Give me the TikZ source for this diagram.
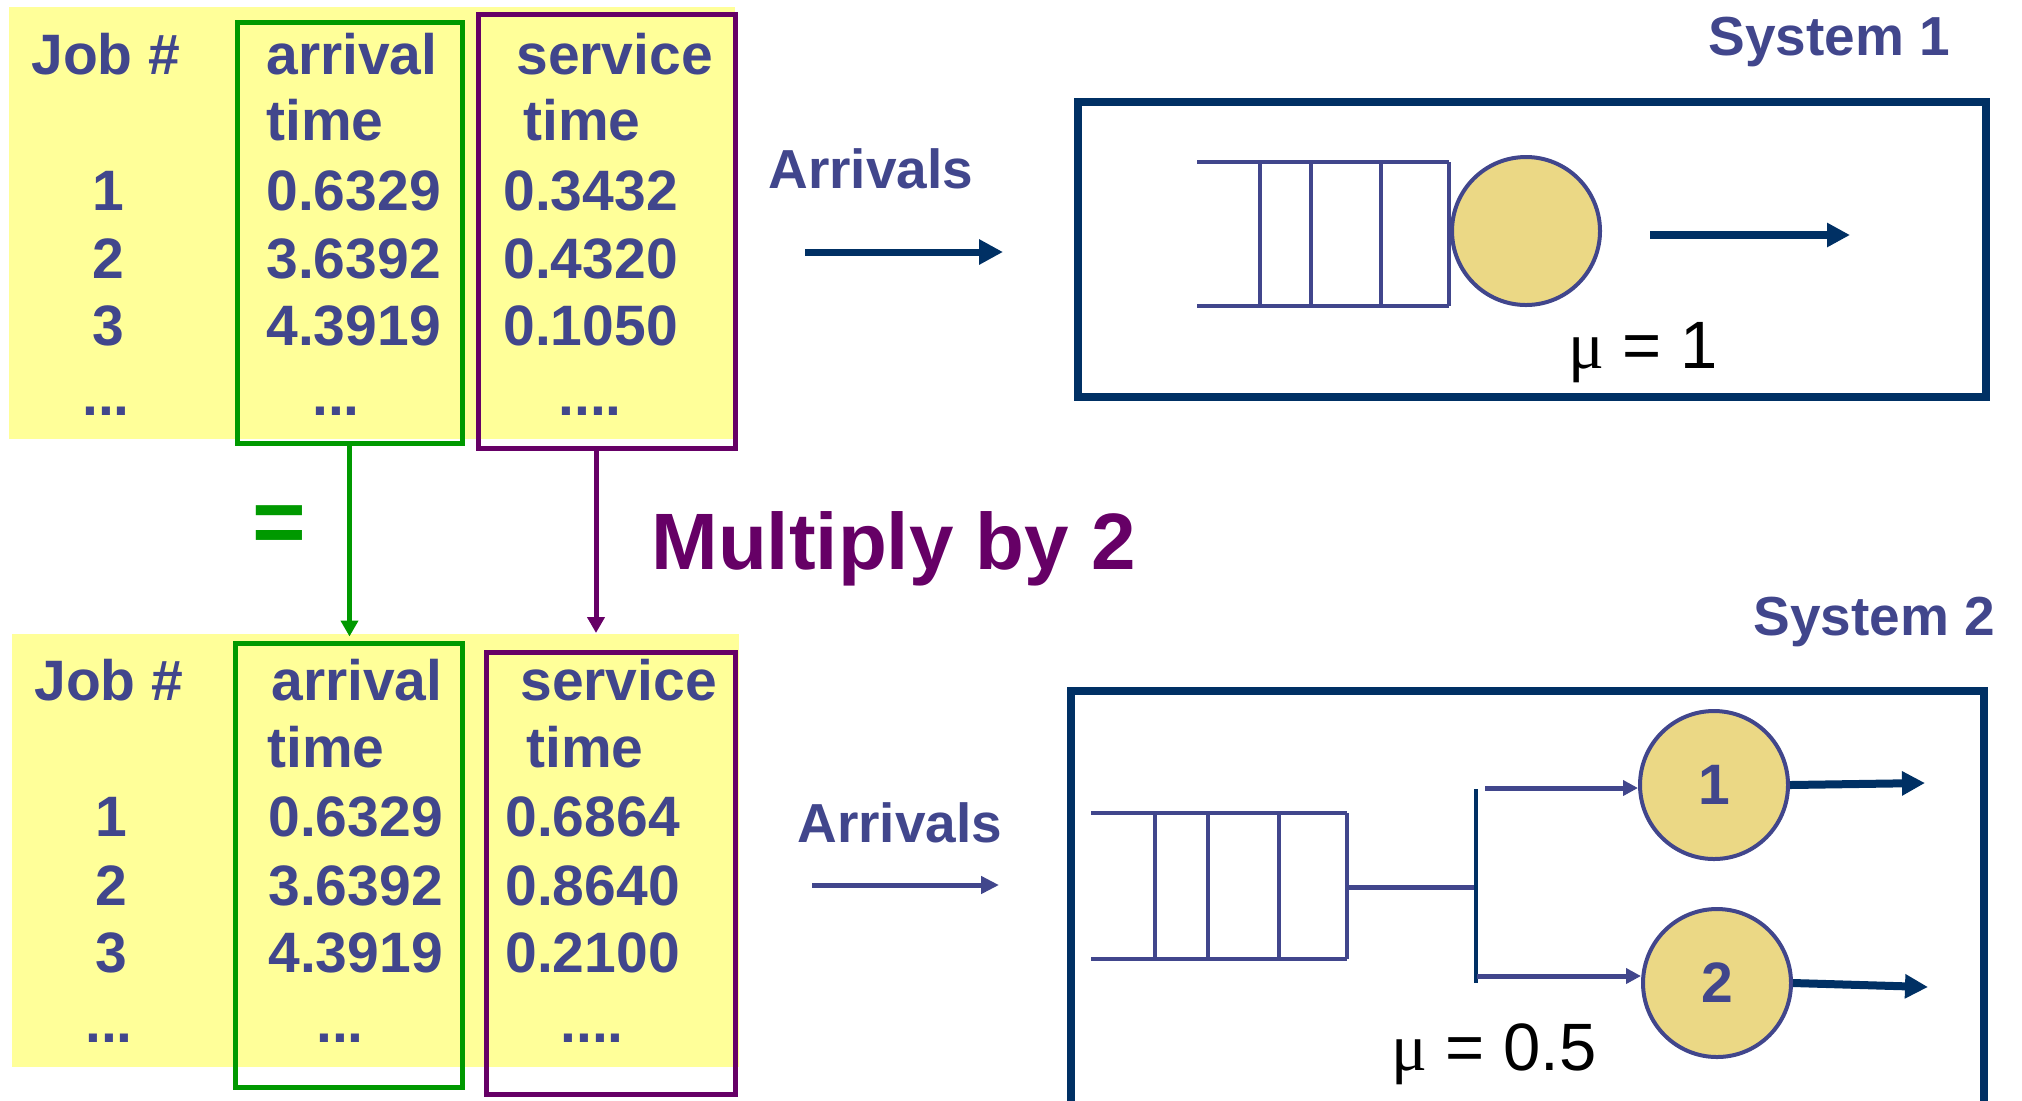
\documentclass[tikz,border=0pt]{standalone}
\usepackage{fontspec}
\setmainfont{Liberation Sans}
\newfontfamily\mufont{Liberation Serif}
\usetikzlibrary{arrows.meta,fit}
\definecolor{txtblue}{RGB}{65,70,140}
\definecolor{navy}{RGB}{0,48,100}
\definecolor{ybg}{RGB}{255,255,153}
\definecolor{grn}{RGB}{0,153,0}
\definecolor{prp}{RGB}{102,0,102}
\definecolor{srv}{RGB}{235,216,133}
\begin{document}
\begin{tikzpicture}[x=0.5pt,y=-0.5pt,
  txt/.style={inner sep=0pt, anchor=base west, text=txtblue, font=\fontsize{28.5}{30}\selectfont\bfseries},
  txtc/.style={txt, anchor=base},
  lbl/.style={inner sep=0pt, anchor=base west, text=txtblue, font=\fontsize{27.5}{30}\selectfont\bfseries},
  mulbl/.style={inner sep=0pt, anchor=base west, text=black, font=\fontsize{33.5}{36}\selectfont},
  ybox/.style={fill=ybg, draw=none, inner sep=0pt},
  gbox/.style={draw=grn, line width=2.5pt, inner sep=0pt},
  pbox/.style={draw=prp, line width=2.5pt, inner sep=0pt},
  sysbox/.style={draw=navy, line width=4pt, inner sep=0pt},
  qline/.style={draw=txtblue, line width=2pt},
  server/.style={circle, draw=txtblue, line width=2pt, fill=srv, minimum size=74pt, inner sep=0pt, text=txtblue, font=\fontsize{28.5}{30}\selectfont\bfseries},
  garrow/.style={draw=grn, line width=2.5pt, -{Triangle[length=8pt,width=8.5pt]}},
  parrow/.style={draw=prp, line width=2.5pt, -{Triangle[length=8pt,width=8.5pt]}},
  bigarrow/.style={draw=navy, line width=3.5pt, -{Triangle[length=12pt,width=12pt]}},
  thinarrow/.style={draw=txtblue, line width=2.5pt, -{Triangle[length=9pt,width=8.5pt]}},
  brarrow/.style={draw=txtblue, line width=2.5pt, -{Triangle[length=7.5pt,width=7.5pt]}},
  outarrow/.style={draw=navy, line width=4pt, -{Triangle[length=11.5pt,width=11.5pt]}}
]
\useasboundingbox (0,0) rectangle (2022,1100);
\clip (0,0) rectangle (2022,1100);

% ---------- top table ----------
\node[ybox, fit={(9,7)(735,439)}] (yTop) {};
\node[gbox, fit={(237,22)(462,443)}] (gTop) {};
\node[pbox, fit={(478,14)(735,448)}] (pTop) {};

\node[txt] (tJob) at (31,74) {Job \#};
\node[txt] (tArrA) at (266,74) {arrival};
\node[txt] (tArrB) at (266,140) {time};
\node[txt] (tSerA) at (516,74) {service};
\node[txt] (tSerB) at (523,140) {time};
\node[txtc] (tJ1) at (108,210) {1};
\node[txtc] (tJ2) at (108,278) {2};
\node[txtc] (tJ3) at (108,345) {3};
\node[txtc] (tJd) at (106,415) {...};
\node[txt] (tA1) at (266,210) {0.6329};
\node[txt] (tA2) at (266,278) {3.6392};
\node[txt] (tA3) at (266,345) {4.3919};
\node[txtc] (tAd) at (336,415) {...};
\node[txt] (tS1) at (503,210) {0.3432};
\node[txt] (tS2) at (503,278) {0.4320};
\node[txt] (tS3) at (503,345) {0.1050};
\node[txtc] (tSd) at (590,415) {....};

% ---------- bottom table ----------
\node[ybox, fit={(12,634)(739,1067)}] (yBot) {};
\node[gbox, fit={(235,643)(462,1087)}] (gBot) {};
\node[pbox, fit={(486,652)(735,1094)}] (pBot) {};

\node[txt] (bJob) at (34,700) {Job \#};
\node[txt] (bArrA) at (271,700) {arrival};
\node[txt] (bArrB) at (267,767) {time};
\node[txt] (bSerA) at (520,700) {service};
\node[txt] (bSerB) at (526,767) {time};
\node[txtc] (bJ1) at (111,836) {1};
\node[txtc] (bJ2) at (111,905) {2};
\node[txtc] (bJ3) at (111,972) {3};
\node[txtc] (bJd) at (109,1042) {...};
\node[txt] (bA1) at (268,836) {0.6329};
\node[txt] (bA2) at (268,905) {3.6392};
\node[txt] (bA3) at (268,972) {4.3919};
\node[txtc] (bAd) at (340,1042) {...};
\node[txt] (bS1) at (505,836) {0.6864};
\node[txt] (bS2) at (505,905) {0.8640};
\node[txt] (bS3) at (505,972) {0.2100};
\node[txtc] (bSd) at (592,1042) {....};

% ---------- connectors between tables ----------
\draw[garrow, shorten >=2pt] (gTop.south) -- (gTop.south |- gBot.north);
\coordinate (pEnd) at (596,633);
\draw[parrow] (pTop.south -| pEnd) -- (pEnd);
\node[inner sep=0pt, text=grn, font=\fontsize{46}{48}\selectfont\bfseries] (eq) at (279,530) {=};
\node[inner sep=0pt, anchor=base west, text=prp, font=\fontsize{40}{44}\selectfont\bfseries] (mult) at (651,569) {Multiply by 2};

% ---------- system 1 ----------
\node[lbl] (sys1) at (1708,55) {System 1};
\node[lbl] (arr1) at (768,188) {Arrivals};
\coordinate (a1s) at (805,252);
\coordinate (a1e) at (1003,252);
\draw[bigarrow] (a1s) -- (a1e);
\node[sysbox, fit={(1078,102)(1986,397)}] (box1) {};
\draw[qline] (1197,162) -- (1449,162);
\draw[qline] (1197,306) -- (1449,306);
\draw[qline] (1260,162) -- (1260,306);
\draw[qline] (1311,162) -- (1311,306);
\draw[qline] (1381,162) -- (1381,306);
\draw[qline] (1449,162) -- (1449,306);
\node[server] (s1) at (1526,231) {};
\coordinate (o1s) at (1650,235);
\coordinate (o1e) at (1850,235);
\draw[outarrow] (o1s) -- (o1e);
\node[mulbl] (mu1) at (1568,368) {{\mufont μ} = 1};

% ---------- system 2 ----------
\node[lbl] (sys2) at (1753,635) {System 2};
\node[lbl] (arr2) at (797,842) {Arrivals};
\coordinate (a2s) at (812,885);
\coordinate (a2e) at (999,885);
\draw[thinarrow] (a2s) -- (a2e);
\node[sysbox, fit={(1071,691)(1984,1130)}] (box2) {};
\draw[qline] (1091,813) -- (1347,813);
\draw[qline] (1091,959) -- (1347,959);
\draw[qline] (1155,813) -- (1155,959);
\draw[qline] (1208,813) -- (1208,959);
\draw[qline] (1279,813) -- (1279,959);
\draw[qline] (1347,813) -- (1347,959);
\coordinate (qout) at (1347,887);
\coordinate (split) at (1476,887);
\draw[qline, line width=2.5pt] (qout) -- (split);
\coordinate (barTop) at (1476,789);
\coordinate (barBot) at (1476,983);
\draw[navy, line width=1.8pt] (barTop) -- (barBot);
\node[server] (s2a) at (1714,785) {1};
\node[server] (s2b) at (1717,983) {2};
\coordinate (b1s) at (1485,788);
\coordinate (b2s) at (1477,976);
\draw[brarrow] (b1s) -- (b1s -| s2a.west);
\draw[brarrow] (b2s) -- (b2s -| s2b.west);
\coordinate (o2e) at (1925,783);
\coordinate (o3e) at (1928,987);
\draw[outarrow] (s2a.east) -- (o2e);
\draw[outarrow] (s2b.east) -- (o3e);
\node[mulbl] (mu2) at (1391,1070) {{\mufont μ} = 0.5};
\end{tikzpicture}
\end{document}
